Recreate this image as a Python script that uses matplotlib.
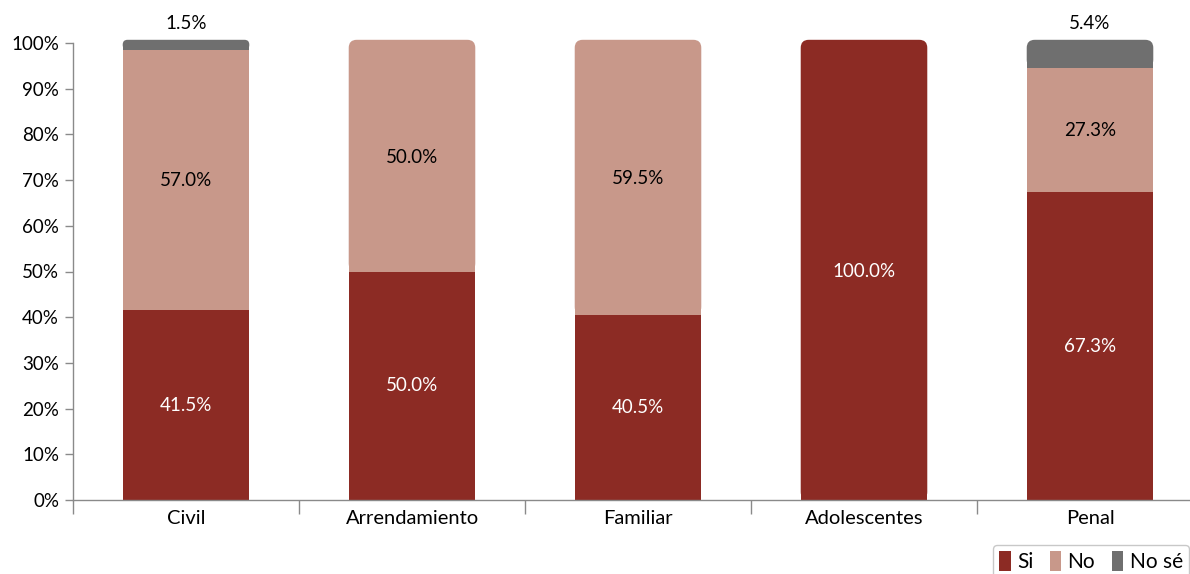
import matplotlib
matplotlib.use("Agg")
import matplotlib.pyplot as plt
from matplotlib.patches import FancyBboxPatch, Rectangle, Patch
import numpy as np

plt.rcParams['font.family'] = ['Lato', 'DejaVu Sans']

categories = ["Civil", "Arrendamiento", "Familiar", "Adolescentes", "Penal"]
si = [41.5, 50.0, 40.5, 100.0, 67.3]
no = [57.0, 50.0, 59.5, 0.0, 27.3]
nose = [1.5, 0.0, 0.0, 0.0, 5.4]
series_names = ["Si", "No", "No sé"]
colors = ["#8C2B24", "#C8988A", "#6F6F6F"]
label_colors = ["white", "black", "black"]
yticks = [0, 10, 20, 30, 40, 50, 60, 70, 80, 90, 100]

W, H = 1190, 574
fig = plt.figure(figsize=(W / 100, H / 100), dpi=100)
left_px, right_px, top_px, bot_px = 73, 1190, 43, 500
ax = fig.add_axes([left_px / W, 1 - bot_px / H, (right_px - left_px) / W, (bot_px - top_px) / H])

unit_px = 226.0
xmax = -0.5 + (right_px - left_px) / unit_px
ax.set_xlim(-0.5, xmax)
ax.set_ylim(0, 100)

bar_w = 0.56
px_x = 1 / unit_px
px_y = 100 / (bot_px - top_px)
aspect = px_y / px_x
r_px = 8

series = [si, no, nose]
x = np.arange(len(categories))
for i in range(len(categories)):
    bottom = 0.0
    vals = [s[i] for s in series]
    top_idx = max(k for k, v in enumerate(vals) if v > 0)
    for k, v in enumerate(vals):
        if v <= 0:
            continue
        xl = x[i] - bar_w / 2
        if k == top_idx:
            ext = 0.7
            h = v + ext
            rr = min(r_px * px_x, (h / aspect) / 2 * 0.95)
            p = FancyBboxPatch((xl, bottom), bar_w, h,
                               boxstyle=f"round,pad=0,rounding_size={rr}",
                               mutation_aspect=aspect, fc=colors[k], ec='none',
                               clip_on=False, zorder=2)
            ax.add_patch(p)
            cover_h = max(h - rr * aspect, h / 2)
            ax.add_patch(Rectangle((xl, bottom), bar_w, cover_h,
                                   fc=colors[k], ec='none', clip_on=False, zorder=2))
        else:
            ax.add_patch(Rectangle((xl, bottom), bar_w, v, fc=colors[k], ec='none', zorder=2))
        if k == 2:
            ax.text(x[i], bottom + v + 2.4, f"{v:.1f}%", ha='center', va='bottom',
                    fontsize=13.5, color='black', clip_on=False)
        else:
            ax.text(x[i], bottom + v / 2, f"{v:.1f}%", ha='center', va='center',
                    fontsize=13.5, color=label_colors[k])
        bottom += v

for s in ['top', 'right']:
    ax.spines[s].set_visible(False)
for s in ['left', 'bottom']:
    ax.spines[s].set_color('#8A8A8A')
    ax.spines[s].set_linewidth(1.0)

ax.set_yticks(yticks)
ax.set_yticklabels([f"{t}%" for t in yticks])
ax.tick_params(axis='y', direction='out', length=6, width=1, color='#8A8A8A',
               labelsize=13.5, pad=4)
ax.set_xticks(x)
ax.set_xticklabels(categories)
ax.tick_params(axis='x', which='major', length=0, labelsize=14.5, pad=7)
ax.set_xticks(np.arange(-0.5, len(categories) - 0.5, 1.0), minor=True)
ax.tick_params(axis='x', which='minor', direction='out', length=10, width=1, color='#8A8A8A')

handles = [Patch(facecolor=c, edgecolor='none') for c in colors]
leg = fig.legend(handles, series_names, loc='upper left',
                 bbox_to_anchor=(993 / W, 1 - 545 / H), ncol=3, frameon=True,
                 fancybox=True, fontsize=15, handlelength=0.55, handleheight=1.1,
                 handletextpad=0.3, columnspacing=0.8, borderaxespad=0, borderpad=0.3)
leg.get_frame().set_edgecolor('#BBBBBB')
leg.get_frame().set_linewidth(1.0)

fig.savefig("out.png", dpi=100)
